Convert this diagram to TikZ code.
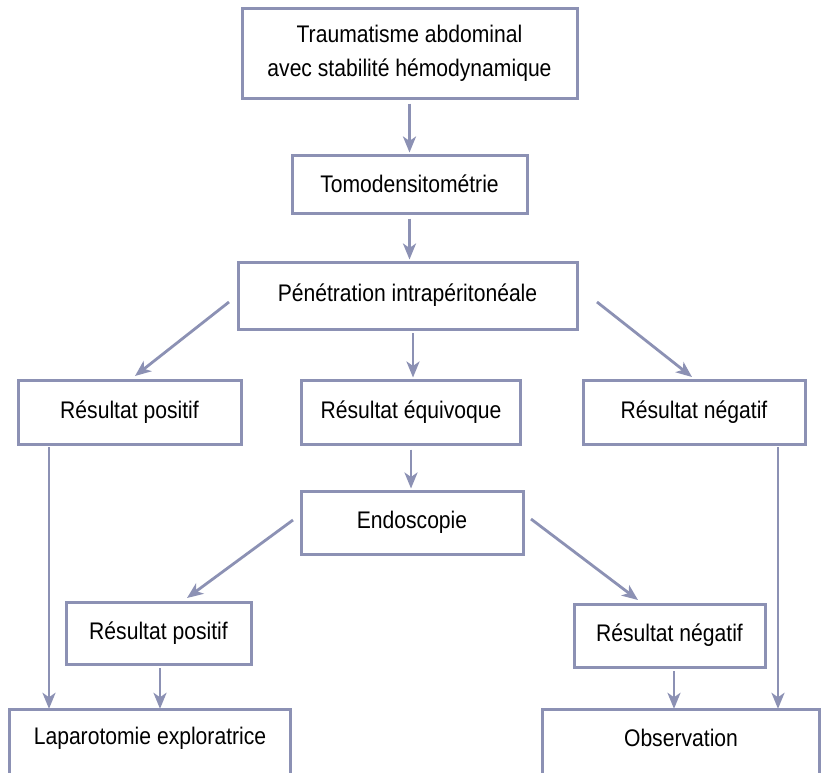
\documentclass[tikz,border=0pt]{standalone}
\usepackage{fontspec}
\setmainfont{Liberation Sans}[FakeStretch=0.88]
\usetikzlibrary{arrows.meta,calc}
\definecolor{linec}{RGB}{140,145,180}
\tikzset{
  box/.style={draw=linec, line width=3pt, fill=white, align=center, inner sep=0pt,
    font=\fontsize{24}{34}\selectfont},
  openbox/.style={draw=none, align=center, inner sep=0pt, font=\fontsize{24}{34}\selectfont},
  boxline/.style={draw=linec, line width=3pt},
  arr/.style={draw=linec, line width=2.8pt, -{Stealth[length=16pt,width=13pt,inset=4.5pt]}}
}
\begin{document}
\begin{tikzpicture}[x=1pt,y=-1pt]
\useasboundingbox (0,0) rectangle (822,772);
\clip (0,0) rectangle (822,772);
\fill[white] (0,0) rectangle (822,772);

\node[box, minimum width=335, minimum height=90] (top) at (409.5,53) {Traumatisme abdominal\\avec stabilité hémodynamique};
\node[box, minimum width=235, minimum height=58] (tomo) at (409.5,184) {Tomodensitométrie};
\node[box, minimum width=339, minimum height=67] (pen) at (407.5,295.5) {Pénétration intrapéritonéale};
\node[box, minimum width=223, minimum height=64] (posA) at (129.5,412) {Résultat positif};
\node[box, minimum width=219, minimum height=64] (equ) at (411,412) {Résultat équivoque};
\node[box, minimum width=222, minimum height=64] (negA) at (694,412) {Résultat négatif};
\node[box, minimum width=222, minimum height=63] (endo) at (412,522.5) {Endoscopie};
\node[box, minimum width=185, minimum height=62] (posB) at (158.5,633) {Résultat positif};
\node[box, minimum width=191, minimum height=63] (negB) at (669.5,635.5) {Résultat négatif};
\node[openbox, minimum width=280, minimum height=56] (lap) at (150,738) {Laparotomie exploratrice};
\node[openbox, minimum width=276, minimum height=56] (obs) at (681,738) {Observation};
\draw[boxline] ([yshift=-30pt]lap.south west) -- (lap.north west) -- (lap.north east) -- ([yshift=-30pt]lap.south east);
\draw[boxline] ([yshift=-30pt]obs.south west) -- (obs.north west) -- (obs.north east) -- ([yshift=-30pt]obs.south east);

% vertical connectors
\draw[arr, shorten <=4pt, shorten >=1pt] (top.south) -- (top.south |- tomo.north);
\draw[arr, shorten <=4pt, shorten >=1pt] (tomo.south) -- (tomo.south |- pen.north);
\coordinate (pe) at (413,333);
\draw[arr, shorten >=1pt] (pe) -- (pe |- equ.north);
\draw[arr, shorten <=4pt, shorten >=1pt] (equ.south) -- (equ.south |- endo.north);
\coordinate (pa) at (49,447);
\draw[arr, shorten >=1pt] (pa) -- (pa |- lap.north);
\coordinate (na) at (778,447);
\draw[arr, shorten >=1pt] (na) -- (na |- obs.north);
\coordinate (pb) at (160,668);
\draw[arr, shorten >=1pt] (pb) -- (pb |- lap.north);
\coordinate (nb) at (674,671);
\draw[arr, shorten >=1pt] (nb) -- (nb |- obs.north);

% diagonal connectors
\coordinate (d1s) at (229,302); \coordinate (d1e) at (135,376);
\coordinate (d2s) at (597,302); \coordinate (d2e) at (692,377);
\coordinate (d3s) at (293,520); \coordinate (d3e) at (187,598);
\coordinate (d4s) at (531,519); \coordinate (d4e) at (638,600);
\draw[arr] (d1s) -- (d1e);
\draw[arr] (d2s) -- (d2e);
\draw[arr] (d3s) -- (d3e);
\draw[arr] (d4s) -- (d4e);
\end{tikzpicture}
\end{document}
